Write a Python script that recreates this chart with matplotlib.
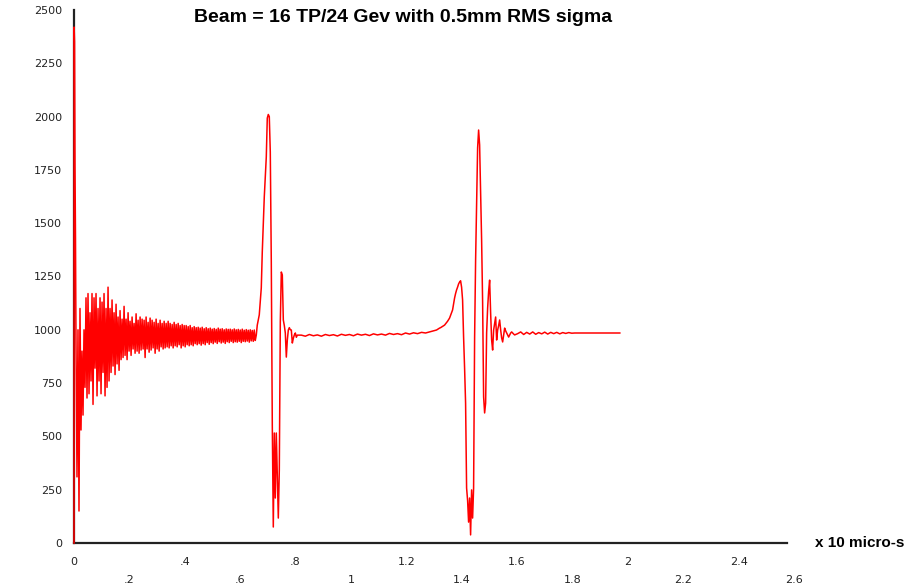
import numpy as np
import matplotlib
matplotlib.use("Agg")
import matplotlib.pyplot as plt

# ---------------- text ----------------
title = "Beam = 16 TP/24 Gev with 0.5mm RMS sigma"
x_unit_label = "x 10 micro-s"

y_ticks = [0, 250, 500, 750, 1000, 1250, 1500, 1750, 2000, 2250, 2500]
y_labels = ["0", "250", "500", "750", "1000", "1250", "1500", "1750", "2000", "2250", "2500"]
x_ticks_upper = [0.0, 0.4, 0.8, 1.2, 1.6, 2.0, 2.4]
x_labels_upper = ["0", ".4", ".8", "1.2", "1.6", "2", "2.4"]
x_ticks_lower = [0.2, 0.6, 1.0, 1.4, 1.8, 2.2, 2.6]
x_labels_lower = [".2", ".6", "1", "1.4", "1.8", "2.2", "2.6"]

# ---------------- data ----------------
# initial spike
start_t = [0.0, 0.0004, 0.002, 0.0036, 0.0054]
start_v = [0, 2420, 2350, 1770, 1430]

# ringing after the first spike (uniformly sampled over ring_span)
ring_span = (0.0072, 0.6582)
ring_v = [
    940, 310, 1000, 150, 1100, 530, 900, 600, 1000, 730,
    1150, 680, 1170, 700, 1080, 760, 1170, 650, 1150, 820,
    1170, 690, 1100, 760, 1150, 700, 1130, 800, 1170, 690,
    1100, 730, 1200, 760, 1100, 800, 1140, 830, 1080, 790,
    1120, 840, 1060, 810, 1090, 860, 1050, 870, 1110, 880,
    1050, 860, 1080, 900, 1040, 880, 1060, 910, 1030, 890,
    1075, 900, 1045, 890, 1060, 905, 1050, 910, 1045, 870,
    1060, 910, 1035, 895, 1055, 905, 1045, 915, 1035, 890,
    1050, 910, 1030, 900, 1045, 920, 1030, 910, 1040, 915,
    1030, 920, 1040, 915, 1030, 925, 1025, 915, 1035, 925,
    1025, 920, 1030, 930, 1020, 915, 1025, 925, 1020, 920,
    1020, 930, 1015, 925, 1020, 930, 1010, 925, 1015, 935,
    1010, 930, 1012, 935, 1008, 928, 1012, 935, 1005, 930,
    1010, 940, 1005, 932, 1008, 940, 1003, 935, 1006, 942,
    1002, 936, 1008, 944, 1003, 938, 1005, 942, 1000, 936,
    1004, 944, 1002, 940, 1003, 946, 1000, 940, 1004, 944,
    1000, 942, 1002, 946, 999, 940, 1003, 946, 998, 944,
    1001, 947, 998, 942, 1000, 948, 997, 946, 999, 950,
    975,
]

# first reflected pulse
pulse1_span = (0.6618, 0.8065)
pulse1_v = [
    1022, 1045, 1070, 1130, 1196, 1365, 1500, 1623, 1720, 1810,
    1993, 2010, 2000, 1834, 1318, 553, 75, 516, 211, 516,
    319, 117, 342, 1037, 1271, 1257, 1046, 1020, 985, 872,
    952, 999, 1010, 1000, 999, 938, 960, 976, 985, 965,
    975,
]

# quiet middle section
mid_span = (0.8210, 1.2984)
mid_v = [
    975, 970, 978, 972, 976, 970, 978, 973, 977, 971,
    979, 974, 978, 972, 980, 975, 979, 973, 981, 976,
    980, 975, 983, 978, 982, 977, 985, 980, 986, 982,
    988, 985, 990, 995,
]

# bump and second pulse
pulse2_span = (1.3092, 1.5913)
pulse2_v = [
    999, 1002, 1005, 1008, 1010, 1013, 1016, 1019, 1022, 1028,
    1034, 1040, 1048, 1055, 1068, 1080, 1093, 1120, 1149, 1170,
    1187, 1200, 1215, 1224, 1230, 1200, 1140, 966, 820, 656,
    258, 200, 98, 211, 38, 249, 117, 258, 962, 1327,
    1600, 1853, 1937, 1867, 1650, 1421, 1130, 685, 610, 656,
    985, 1102, 1180, 1233, 1079, 952, 905, 999, 1030, 1060,
    952, 999, 1020, 1046, 1000, 962, 943, 975, 1008, 995,
    985, 975, 966, 975, 985, 990, 985, 980, 976,
]

# tail ripple and flat end
tail_span = (1.6022, 1.8083)
tail_v = [
    982, 990, 978, 988, 980, 990, 979, 987, 981, 989,
    980, 988, 982, 988, 981, 987, 983, 987, 984, 985,
]
end_t = [1.971]
end_v = [985]

# ---------------- assemble ----------------
t = np.concatenate([
    start_t,
    np.linspace(*ring_span, len(ring_v)),
    np.linspace(*pulse1_span, len(pulse1_v)),
    np.linspace(*mid_span, len(mid_v)),
    np.linspace(*pulse2_span, len(pulse2_v)),
    np.linspace(*tail_span, len(tail_v)),
    end_t,
])
v = np.concatenate([start_v, ring_v, pulse1_v, mid_v, pulse2_v, tail_v, end_v])

# ---------------- figure ----------------
W, H = 916, 588
fig = plt.figure(figsize=(W / 100, H / 100), dpi=100)
ax = fig.add_axes([74 / W, 45 / H, 720 / W, 533 / H])

ax.plot(t, v, color="#ff0000", lw=1.1, zorder=3, clip_on=False)

ax.set_xlim(0, 2.6)
ax.set_ylim(0, 2500)

for s in ("top", "right"):
    ax.spines[s].set_visible(False)
for s in ("left", "bottom"):
    ax.spines[s].set_color("#222222")
    ax.spines[s].set_linewidth(1.6)
ax.spines["bottom"].set_bounds(0, 2.575)

tick_font = dict(family="DejaVu Sans", size=8, color="#222222")
ax.set_yticks(y_ticks)
ax.set_yticklabels(y_labels, **tick_font)
ax.set_xticks(x_ticks_upper)
ax.set_xticklabels(x_labels_upper, **tick_font)
ax.set_xticks(x_ticks_lower, minor=True)
ax.set_xticklabels(x_labels_lower, minor=True, **tick_font)
ax.tick_params(axis="y", length=0, pad=8.5)
ax.tick_params(axis="x", which="major", length=0, pad=10)
ax.tick_params(axis="x", which="minor", length=0, pad=23)

narrow = ["Liberation Sans Narrow", "Liberation Sans", "DejaVu Sans"]
fig.text(403 / W, 1 - 18 / H, title, ha="center", va="center",
         fontsize=14, fontweight="bold", family=narrow)
fig.text(815 / W, 1 - 543 / H, x_unit_label, ha="left", va="center",
         fontsize=11, fontweight="bold", family=narrow)

fig.savefig("out.png", dpi=100)
